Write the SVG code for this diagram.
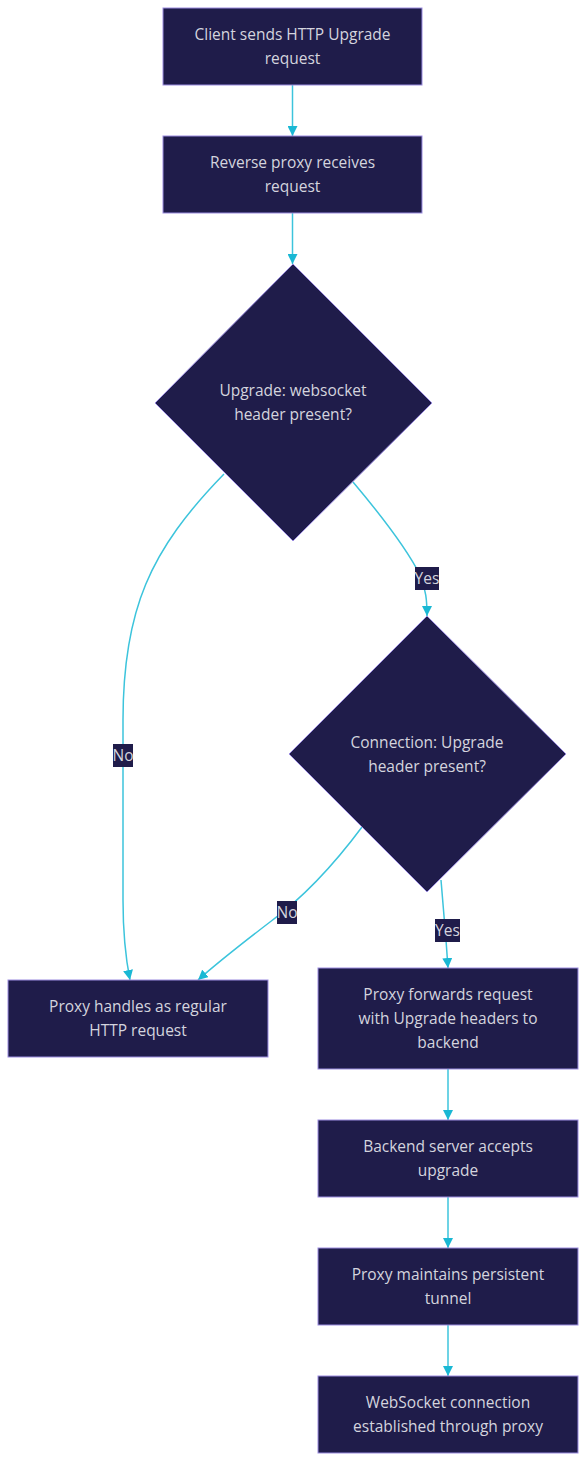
<svg xmlns="http://www.w3.org/2000/svg" width="586" height="1462" viewBox="0 0 586 1462">
<style>
.n{fill:#1f1c4a;stroke:#9b8ce0;stroke-width:1}
.t{font-family:"Open Sans","Liberation Sans",sans-serif;font-size:15.5px;fill:#d4d4de;text-anchor:middle}
.e{fill:none;stroke:#3cc4dc;stroke-width:1.5}
.lb{fill:#1f1c4a}
</style>
<defs>
<marker id="a" markerUnits="userSpaceOnUse" markerWidth="10" markerHeight="10" viewBox="0 0 10 10" refX="10" refY="5" orient="auto">
<path d="M0,0 L10,5 L0,10 z" fill="#1ab8d4"/>
</marker>
</defs>
<rect width="586" height="1462" fill="#ffffff"/>
<g id="connectors">
<path class="e" d="M292.5,85 L292.5,136" marker-end="url(#a)"/>
<path class="e" d="M292.5,213 L292.5,264" marker-end="url(#a)"/>
<path class="e" d="M224,474 C150,550 123,610 123,720 L123,900 C123,940 126,960 130,980" marker-end="url(#a)"/>
<path class="e" d="M353,482 C385,520 410,555 420,575 C426,590 427,600 427,616" marker-end="url(#a)"/>
<path class="e" d="M362,827 C330,870 300,900 270,922 C240,945 215,965 198,980" marker-end="url(#a)"/>
<path class="e" d="M441,880 L446,940 L448,968" marker-end="url(#a)"/>
<path class="e" d="M448,1069 L448,1120" marker-end="url(#a)"/>
<path class="e" d="M448,1197 L448,1248" marker-end="url(#a)"/>
<path class="e" d="M448,1325 L448,1376" marker-end="url(#a)"/>
<g id="edge-labels">
<rect class="lb" x="113" y="744" width="20" height="23"/><text class="t" x="123" y="761">No</text>
<rect class="lb" x="415" y="567" width="24" height="23"/><text class="t" x="427" y="584">Yes</text>
<rect class="lb" x="277" y="901" width="20" height="23"/><text class="t" x="287" y="918">No</text>
<rect class="lb" x="435" y="919" width="25" height="23"/><text class="t" x="447.5" y="936">Yes</text>
</g>
</g>
<g id="n1"><rect class="n" x="163" y="8" width="259" height="77"/><text class="t" x="292.5" y="39.5">Client sends HTTP Upgrade</text><text class="t" x="292.5" y="63.5">request</text></g>
<g id="n2"><rect class="n" x="163" y="136" width="259" height="77"/><text class="t" x="292.5" y="167.5">Reverse proxy receives</text><text class="t" x="292.5" y="191.5">request</text></g>
<g id="d1"><polygon class="n" points="293,264 432,403 293,541 155,403"/><text class="t" x="293" y="396">Upgrade: websocket</text><text class="t" x="293" y="420">header present?</text></g>
<g id="d2"><polygon class="n" points="427,616 566,754 427,892 289,754"/><text class="t" x="427" y="748">Connection: Upgrade</text><text class="t" x="427" y="772">header present?</text></g>
<g id="n3"><rect class="n" x="8" y="980" width="260" height="77"/><text class="t" x="138" y="1011.5">Proxy handles as regular</text><text class="t" x="138" y="1035.5">HTTP request</text></g>
<g id="n4"><rect class="n" x="318" y="968" width="260" height="101"/><text class="t" x="448" y="999.5">Proxy forwards request</text><text class="t" x="448" y="1023.5">with Upgrade headers to</text><text class="t" x="448" y="1047.5">backend</text></g>
<g id="n5"><rect class="n" x="318" y="1120" width="260" height="77"/><text class="t" x="448" y="1151.5">Backend server accepts</text><text class="t" x="448" y="1175.5">upgrade</text></g>
<g id="n6"><rect class="n" x="318" y="1248" width="260" height="77"/><text class="t" x="448" y="1279.5">Proxy maintains persistent</text><text class="t" x="448" y="1303.5">tunnel</text></g>
<g id="n7"><rect class="n" x="318" y="1376" width="260" height="77"/><text class="t" x="448" y="1407.5">WebSocket connection</text><text class="t" x="448" y="1431.5">established through proxy</text></g>
</svg>
